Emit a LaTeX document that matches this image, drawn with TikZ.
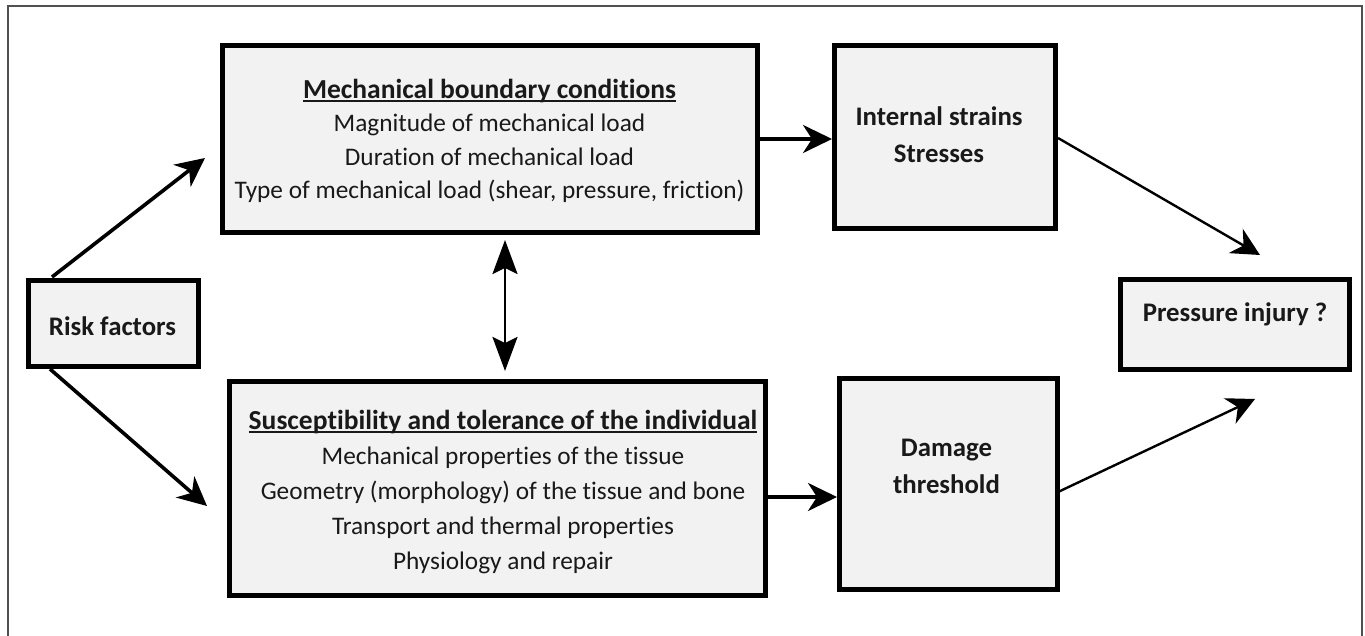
\documentclass[tikz,border=0pt]{standalone}
\usepackage{fontspec}
\setmainfont{Carlito}[Ligatures=NoCommon]
\usetikzlibrary{arrows.meta,calc}
\definecolor{boxfill}{HTML}{F2F2F2}
\definecolor{framegray}{HTML}{505050}
\newcommand{\myul}[1]{\setbox0\hbox{#1}\rlap{\rule[-3.5pt]{\wd0}{1.5pt}}\box0}
\newcommand{\ttl}[1]{\myul{\fontsize{27.5}{33.5}\selectfont\bfseries #1}}
\begin{document}
\begin{tikzpicture}[x=1pt,y=-1pt,
  boxnode/.style={draw=black, fill=boxfill, line width=5pt, inner sep=0pt, rectangle},
  txt/.style={align=center, inner sep=0pt, text=black!90, font=\fontsize{25.3}{33.5}\selectfont},
  btxt/.style={align=center, inner sep=0pt, text=black!90, font=\fontsize{26.8}{37}\selectfont\bfseries},
  arrthick/.style={line width=3.6pt, -{Stealth[length=29pt,width=28pt,inset=9pt]}},
  arrthin/.style={line width=2.4pt, -{Stealth[length=28pt,width=28pt,inset=9pt]}},
  arrdbl/.style={line width=2.4pt, {Stealth[length=34pt,width=25pt,inset=6pt]}-{Stealth[length=34pt,width=25pt,inset=6pt]}}]
\useasboundingbox (0,0) rectangle (1365,636);
\fill[white] (0,0) rectangle (1365,636);
\draw[framegray, line width=1.3pt] (8,645) -- (8,6) -- (1362,6) -- (1362,645);

% boxes
\node[boxnode, minimum width=535pt, minimum height=187pt] (mech) at (490,139) {};
\node[boxnode, minimum width=221pt, minimum height=183pt] (internal) at (945,137) {};
\node[boxnode, minimum width=229pt, minimum height=90pt] (pressure) at (1235,324.5) {};
\node[boxnode, minimum width=218pt, minimum height=211pt] (damage) at (948.5,484) {};
\node[boxnode, minimum width=536pt, minimum height=214pt] (susc) at (497.5,488.5) {};
\node[boxnode, minimum width=170pt, minimum height=86pt] (risk) at (113.5,323.5) {};

% texts
\node[txt] (mechtxt) at (489.5,141) {\ttl{Mechanical boundary conditions}\\Magnitude of mechanical load\\Duration of mechanical load\\Type of mechanical load (shear, pressure, friction)};
\node[txt, font=\fontsize{25.3}{35}\selectfont] (susctxt) at (503,492) {\ttl{Susceptibility and tolerance of the individual}\\Mechanical properties of the tissue\\Geometry (morphology) of the tissue and bone\\Transport and thermal properties\\Physiology and repair};
\node[btxt] (inttxt) at (939,135) {Internal strains\\Stresses};
\node[btxt] (dmgtxt) at (946.5,466) {Damage\\threshold};
\node[btxt, anchor=base] (prtxt) at (1235,321) {Pressure injury ?};
\node[btxt, anchor=base] (risktxt) at (112.5,335) {Risk factors};

% free ends
\coordinate (t1) at (205,158);
\coordinate (t2) at (207,506);
\coordinate (t3) at (1260,255);
\coordinate (t4) at (1255,399);
\coordinate (sd) at ($(susc.east)+(0,8.5)$);

% connectors
\draw[arrthick] ($(risk.north west)+(26,-1)$) -- (t1);
\draw[arrthick] ($(risk.south west)+(24,0)$) -- (t2);
\draw[arrthick] (mech.east) -- (mech.east -| internal.west);
\draw[arrthick] (sd) -- (sd -| damage.west);
\draw[arrthin] ($(internal.east)+(0,1)$) -- (t3);
\draw[arrthin] ($(damage.east)+(-2,8)$) -- (t4);
\draw[arrdbl] ($(mech.south)+(15,5)$) -- ($(susc.north)+(7.5,-8)$);
\end{tikzpicture}
\end{document}
